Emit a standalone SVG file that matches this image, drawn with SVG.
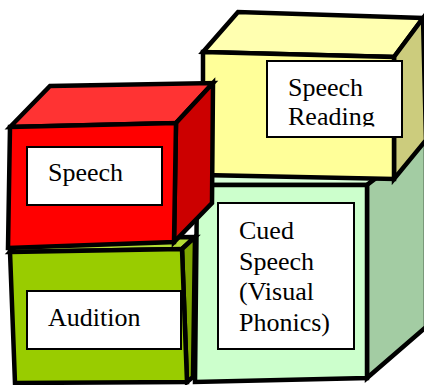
<svg xmlns="http://www.w3.org/2000/svg" width="424" height="385" viewBox="0 0 424 385">
  <style>
    .edge { stroke: #000; stroke-width: 4.5; stroke-linejoin: miter; }
    .label { fill: #fff; stroke: #000; stroke-width: 2; }
    .txt { font-family: 'Liberation Serif', 'Times New Roman', serif; font-size: 26px; fill: #000; }
  </style>
  <defs>
    <clipPath id="readingClip">
      <rect x="267" y="61" width="135" height="65.5"/>
    </clipPath>
  </defs>
  <rect width="424" height="385" fill="#fff"/>

  <!-- Cued Speech block (light green, right bottom) -->
  <g id="cued-speech">
    <polygon class="edge" points="197,185 367,185 426,140 256,140" fill="#D9FFD9"/>
    <polygon class="edge" points="367,185 426,140 426,327 367,378" fill="#A3CCA3"/>
    <polygon class="edge" points="197,185 367,185 367,378 195,382" fill="#CCFFCC"/>
    <rect class="label" x="218" y="203" width="136" height="146"/>
    <text class="txt" x="239" y="239">Cued</text>
    <text class="txt" x="239" y="270">Speech</text>
    <text class="txt" x="239" y="300">(Visual</text>
    <text class="txt" x="239" y="331">Phonics)</text>
  </g>

  <!-- Speech Reading block (yellow, top right) -->
  <g id="speech-reading">
    <polygon class="edge" points="203,52 394,57 423,18 238,12" fill="#FFFFB0"/>
    <polygon class="edge" points="394,57 423,18 426,140 394,179" fill="#CCCC7D"/>
    <polygon class="edge" points="203,52 394,57 394,179 203,175" fill="#FFFF99"/>
    <rect class="label" x="267" y="61" width="135" height="76"/>
    <g clip-path="url(#readingClip)">
      <text class="txt" x="288" y="96">Speech</text>
      <text class="txt" x="288" y="125">Reading</text>
    </g>
  </g>

  <!-- Audition block (lime, left bottom) -->
  <g id="audition">
    <polygon class="edge" points="10,252 182,249 195,237 23,238" fill="#B3DB33"/>
    <polygon class="edge" points="182,249 195,237 193,377 187,382" fill="#7FA600"/>
    <polygon class="edge" points="10,252 182,249 187,382 15,383" fill="#99CC00"/>
    <rect class="label" x="27" y="291" width="154" height="58"/>
    <text class="txt" x="48" y="326">Audition</text>
  </g>

  <!-- Speech block (red, left top) -->
  <g id="speech">
    <polygon class="edge" points="10,127 176,123 213,83 50,86" fill="#FF3333"/>
    <polygon class="edge" points="176,123 213,83 212,203 174,242" fill="#CC0000"/>
    <polygon class="edge" points="10,127 176,123 174,242 8,248" fill="#FF0000"/>
    <rect class="label" x="27" y="147" width="135" height="58"/>
    <text class="txt" x="48" y="181">Speech</text>
  </g>

  <g id="connectors"/>
</svg>
